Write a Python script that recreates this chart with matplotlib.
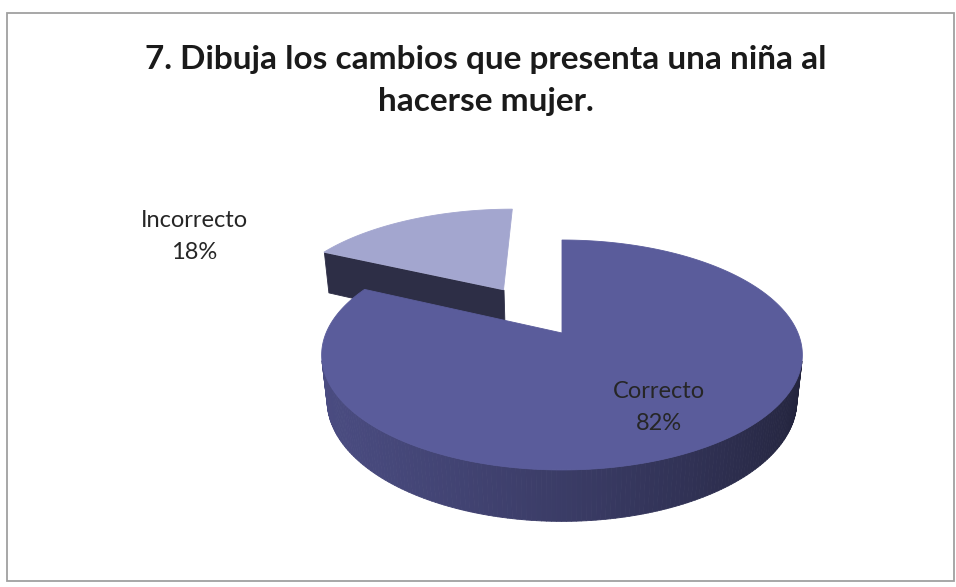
import numpy as np
import matplotlib.pyplot as plt
from matplotlib.patches import Polygon, Rectangle
from matplotlib.collections import PolyCollection
from matplotlib.colors import to_rgb

# datos del grafico
categorias = ["Correcto", "Incorrecto"]
porcentajes = [82, 18]
separacion = [0.0, 0.5]
colores_tapa = ["#5a5c9b", "#a3a6cf"]
colores_lado = ["#52548f", "#3c3e5e"]
titulo = ["7. Dibuja los cambios que presenta una niña al", "hacerse mujer."]

plt.rcParams["font.family"] = ["Lato", "DejaVu Sans"]

# camara en perspectiva (pastel 3D estilo Excel)
phi = np.radians(28)
dist = 4.62
focal = 1090
grosor = 0.22
cx, cy = 562, 333

cam = np.array([0.0, -dist * np.cos(phi), dist * np.sin(phi)])
fwd = np.array([0.0, np.cos(phi), -np.sin(phi)])
arriba = np.array([0.0, np.sin(phi), np.cos(phi)])
luz = np.array([-1.0, -0.3, 0.0])
luz = luz / np.linalg.norm(luz)


def proyectar(p):
    p = np.atleast_2d(p)
    v = p - cam
    d = v @ fwd
    sx = focal * v[:, 0] / d
    sy = focal * (v @ arriba) / d
    return np.column_stack([cx + sx, cy - sy])


def profundidad(p):
    return np.mean((np.atleast_2d(p) - cam) @ fwd)


def visible(normal, quad, umbral=0.0):
    hacia = cam - quad.mean(axis=0)
    return np.dot(normal, hacia / np.linalg.norm(hacia)) > umbral


def sombra(color, normal):
    k = 0.64 + 0.26 * float(np.dot(normal, luz))
    return tuple(np.clip(np.array(to_rgb(color)) * k, 0, 1))


fig = plt.figure(figsize=(9.56, 5.87), dpi=100)
ax = fig.add_axes([0, 0, 1, 1])
ax.set_xlim(0, 956)
ax.set_ylim(587, 0)
ax.axis("off")

ax.add_patch(Rectangle((7, 13), 947, 568, fill=False, edgecolor="#a0a0a0", lw=1.3))

total = sum(porcentajes)
cum = np.concatenate([[0], np.cumsum(porcentajes)]) / total
rebanadas = []
for i in range(len(porcentajes)):
    t1 = np.radians(90 - 360 * cum[i + 1])
    t2 = np.radians(90 - 360 * cum[i])
    medio = (t1 + t2) / 2
    off = separacion[i] * np.array([np.cos(medio), np.sin(medio), 0.0])
    rebanadas.append((i, t1, t2, off))

# de atras hacia adelante
rebanadas.sort(key=lambda r: -r[3][1])

for i, t1, t2, off in rebanadas:
    n = max(int(np.degrees(t2 - t1)), 4)
    t = np.linspace(t1, t2, n + 1)
    arco = np.column_stack([np.cos(t), np.sin(t), np.zeros_like(t)]) + off
    arco_b = arco - np.array([0, 0, grosor])
    apice = off.copy()
    apice_b = off - np.array([0, 0, grosor])

    caras = []
    # lado curvo
    for k in range(n):
        tm = (t[k] + t[k + 1]) / 2
        nrm = np.array([np.cos(tm), np.sin(tm), 0.0])
        quad = np.array([arco[k], arco[k + 1], arco_b[k + 1], arco_b[k]])
        if visible(nrm, quad):
            caras.append((profundidad(quad), proyectar(quad), sombra(colores_lado[i], nrm)))
    # caras radiales
    for ang, nrm in [(t1, np.array([np.sin(t1), -np.cos(t1), 0.0])),
                     (t2, np.array([-np.sin(t2), np.cos(t2), 0.0]))]:
        borde = np.array([np.cos(ang), np.sin(ang), 0.0]) + off
        quad = np.array([apice, borde, borde - np.array([0, 0, grosor]), apice_b])
        if visible(nrm, quad, 0.15):
            caras.append((profundidad(quad), proyectar(quad), sombra(colores_lado[i], nrm * 0.6)))

    caras.sort(key=lambda c: -c[0])
    pc = PolyCollection([c[1] for c in caras], facecolors=[c[2] for c in caras],
                        edgecolors=[c[2] for c in caras], linewidths=0.6)
    ax.add_collection(pc)

    tapa = proyectar(np.vstack([apice, arco]))
    ax.add_patch(Polygon(tapa, closed=True, facecolor=colores_tapa[i],
                         edgecolor=colores_tapa[i], lw=0.6))

# textos
ax.text(486, 69, titulo[0], ha="center", va="baseline",
        fontsize=24, fontweight="bold", color="#1a1a1a")
ax.text(486, 111, titulo[1], ha="center", va="baseline",
        fontsize=24, fontweight="bold", color="#1a1a1a")

posiciones = {"Correcto": (659, 398), "Incorrecto": (194, 227)}
for nombre, valor in zip(categorias, porcentajes):
    x, y = posiciones[nombre]
    ax.text(x, y, nombre, ha="center", va="baseline", fontsize=17, color="#262626")
    ax.text(x, y + 32, f"{valor}%", ha="center", va="baseline", fontsize=17, color="#262626")

fig.savefig("out.png", dpi=100)
